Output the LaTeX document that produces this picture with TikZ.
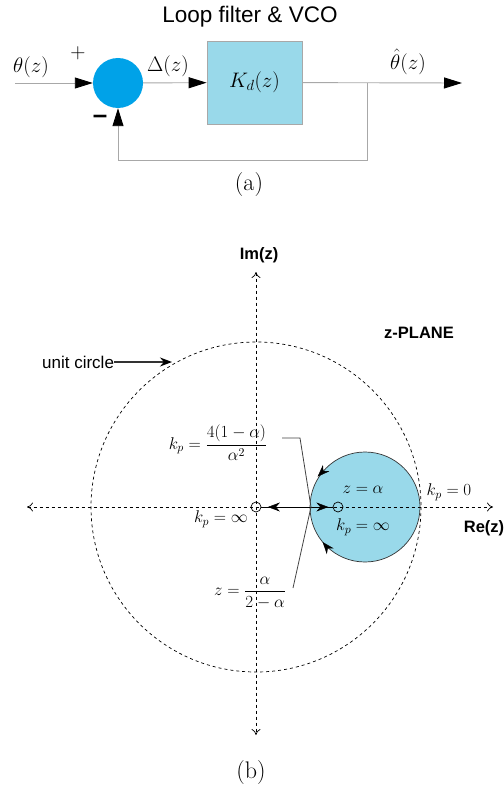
\RequirePackage{fix-cm}
\documentclass[tikz,border=0pt]{standalone}
\usepackage{fontspec}
\usetikzlibrary{arrows.meta,decorations.markings}
\newfontfamily\arialf{Liberation Sans}
\definecolor{sumblue}{HTML}{00A2E8}
\definecolor{boxblue}{HTML}{99D9EA}
\definecolor{lineg}{HTML}{A8A8A8}
\tikzset{
  sig/.style={draw=lineg, line width=0.9pt},
  bigtip/.style={-{Triangle[length=18pt,width=11pt,color=black]}},
  toplab/.style={font=\fontsize{21}{24}\selectfont, inner sep=0},
  botlab/.style={font=\fontsize{17}{20}\selectfont, inner sep=0},
  sansbold/.style={font=\arialf\bfseries\fontsize{16.5}{19}\selectfont, inner sep=0},
  axisline/.style={line width=0.7pt, dash pattern=on 3pt off 3pt},
  leader/.style={draw=black!75, line width=0.8pt},
  smallo/.style={circle, draw=black, line width=0.7pt, minimum size=10pt, inner sep=0},
  caption/.style={font=\fontsize{24}{28}\selectfont, inner sep=0},
  locustip/.tip={Stealth[length=12pt,width=9pt,color=black,line width=0.5pt]},
}
\begin{document}
\begin{tikzpicture}[x=1pt,y=-1pt]
\useasboundingbox (0,0) rectangle (503,797);
% ---------------- (a) block diagram
\node[font=\arialf\fontsize{22.5}{26}\selectfont, inner sep=0] (title) at (250,17) {Loop filter \& VCO};
\node[circle, fill=sumblue, minimum size=50pt, inner sep=0] (sum) at (118,83) {};
\node[draw=lineg, line width=0.8pt, fill=boxblue, minimum width=95pt, minimum height=83pt, inner sep=0,
      font=\fontsize{21}{24}\selectfont] (kd) at (254.5,82.5) {$K_d(z)$};
\coordinate (in) at (15,83);
\coordinate (out) at (462,83);
\coordinate (br) at (367,83);
\coordinate (fb) at (367,160);
\draw[sig,bigtip] (in) -- (sum);
\draw[sig,bigtip] (sum) -- (kd);
\draw[sig,bigtip] (kd) -- (out);
\draw[sig,bigtip] (br) -- (fb) -| (sum.south);
\node[toplab] (theta) at (31,67) {$\theta(z)$};
\node[toplab] (plus) at (78,53) {$+$};
\node[font=\arialf\bfseries\fontsize{26}{28}\selectfont, inner sep=0] (minus) at (100,119) {–};
\node[toplab] (delta) at (168,66) {$\Delta(z)$};
\node[toplab] (thetahat) at (408,62) {$\hat\theta(z)$};
\node[caption] (capa) at (249,185) {(a)};
% ---------------- (b) z-plane
\coordinate (O) at (256,507);
\draw[axisline] (O) circle (165);
\draw[line width=0.7pt, draw=black!80, fill=boxblue,
      postaction={decorate},
      decoration={markings,
        mark=at position 0.39 with {\arrow{locustip}},
        mark=at position 0.625 with {\arrow{locustip[reversed]}}}]
      (365,507) circle (55);
\coordinate (xl) at (27,507);
\coordinate (xr) at (493,507);
\coordinate (yt) at (256,272);
\coordinate (yb) at (256,735);
\draw[axisline, {To[length=6pt,width=9pt]}-{To[length=6pt,width=9pt]}] (xl) -- (xr);
\draw[axisline, {To[length=6pt,width=9pt]}-{To[length=6pt,width=9pt]}] (yt) -- (yb);
\node[smallo] (z0) at (O) {};
\node[smallo] (za) at (338,507) {};
\draw[line width=0.8pt, postaction={decorate},
      decoration={markings,
        mark=at position 0.26 with {\arrow{locustip[reversed]}},
        mark=at position 0.94 with {\arrow{locustip}}}]
      (z0) -- (za);
% labels
\node[sansbold] (im) at (259,255) {Im(z)};
\node[sansbold] (re) at (484,528) {Re(z)};
\node[sansbold] (zp) at (419,333) {z-PLANE};
\node[font=\arialf\fontsize{17}{20}\selectfont, inner sep=0, anchor=west] (uc) at (42,362) {unit circle};
\coordinate (ucp) at (172,362);
\draw[line width=1.3pt, draw=black!80, -{Stealth[length=12pt,width=9pt,color=black]}] (uc.east) -- (ucp);
\node[botlab] (kpa) at (218,443) {$k_p=\displaystyle\frac{4(1-\alpha)}{\alpha^2}$};
\node[botlab] (za2) at (250,593) {$z=\displaystyle\frac{\alpha}{2-\alpha}$};
\coordinate (bk) at (311,507);
\coordinate (l1) at (300,438);
\coordinate (l2) at (293,588);
\coordinate (l0) at (282,438);
\draw[leader] (l0) -- (l1) -- (bk) -- (l2);
\node[botlab] (kinf0) at (221,519) {$k_p=\infty$};
\node[botlab] (zal) at (363,490) {$z=\alpha$};
\node[botlab] (kinfa) at (363,527) {$k_p=\infty$};
\node[botlab] (kz) at (449,492) {$k_p=0$};
\node[caption] (capb) at (251,773) {(b)};
\end{tikzpicture}
\end{document}
